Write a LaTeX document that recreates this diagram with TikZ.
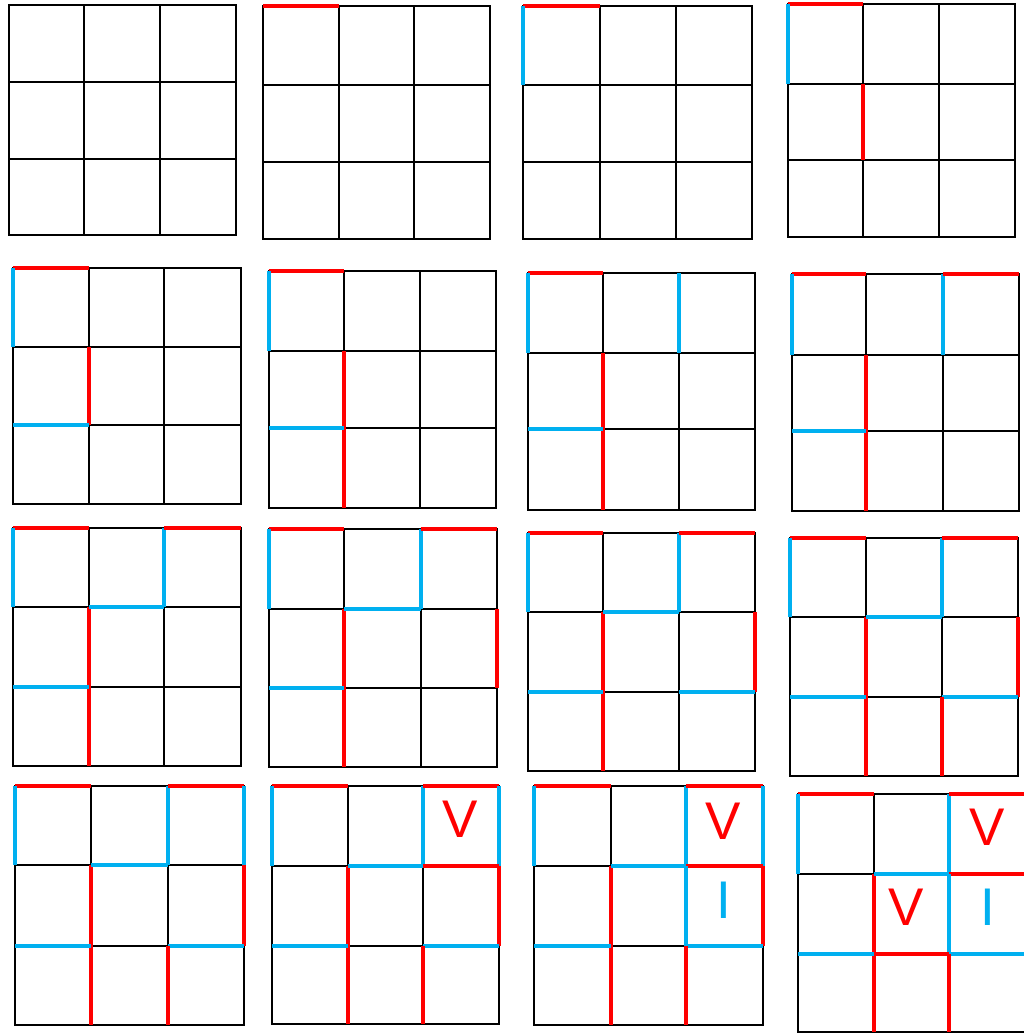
\documentclass[tikz,border=0pt]{standalone}
\usepackage{fontspec}
\setmainfont{Liberation Sans}
\definecolor{myred}{HTML}{FF0000}
\definecolor{mycyan}{HTML}{00B0F0}
\tikzset{
  gridline/.style={draw=black,line width=1.7pt},
  redE/.style={draw=myred,line width=3.8pt},
  cyanE/.style={draw=mycyan,line width=3.8pt},
  letter/.style={inner sep=0pt,font=\fontsize{53}{53}\selectfont},
}
% \mkgrid{name}{x0}{x1}{x2}{x3}{y0}{y1}{y2}{y3}
\newcommand\mkgrid[9]{%
  \foreach[count=\i from 0] \xx in {#2,#3,#4,#5}{%
    \foreach[count=\j from 0] \yy in {#6,#7,#8,#9}{%
      \coordinate (#1-\i-\j) at (\xx,\yy);}}%
  \draw[gridline] (#1-0-0) rectangle (#1-3-3);
  \draw[gridline] (#1-1-0) -- (#1-1-3) (#1-2-0) -- (#1-2-3)
                  (#1-0-1) -- (#1-3-1) (#1-0-2) -- (#1-3-2);
}
\newcommand\hR[3]{\draw[redE] (#1-#2-#3) -- (#1-\the\numexpr#2+1\relax-#3);}
\newcommand\hC[3]{\draw[cyanE] (#1-#2-#3) -- (#1-\the\numexpr#2+1\relax-#3);}
\newcommand\vR[3]{\draw[redE] (#1-#2-#3) -- (#1-#2-\the\numexpr#3+1\relax);}
\newcommand\vC[3]{\draw[cyanE] (#1-#2-#3) -- (#1-#2-\the\numexpr#3+1\relax);}
\begin{document}
\begin{tikzpicture}[x=1pt,y=-1pt]
\useasboundingbox (0,0) rectangle (1024,1033);
\clip (0,0) rectangle (1024,1033);
\fill[white] (0,0) rectangle (1024,1033);
% ---- grids ----
\mkgrid{ga}{9}{83.7}{160}{236}{5}{81.7}{159}{234.7}
\mkgrid{gb}{263}{338.7}{414}{489.7}{6}{84.7}{162}{238.7}
\mkgrid{gc}{523}{599.7}{675.7}{752}{5.7}{84.7}{162}{238.7}
\mkgrid{gd}{787.7}{862.7}{938.7}{1015}{4}{83.7}{159.7}{237}
\mkgrid{ge}{12.7}{88.7}{164}{241}{268.3}{346.7}{425}{503.7}
\mkgrid{gf}{268.7}{343.7}{419.7}{496}{271}{351}{427.7}{507.7}
\mkgrid{gg}{527.7}{603}{678.7}{755}{273.3}{352.7}{428.7}{510}
\mkgrid{gh}{791.7}{866.3}{943}{1019}{274.3}{354.7}{431}{510.7}
\mkgrid{gi}{12.7}{88.7}{164}{241}{527.7}{607}{687}{766.3}
\mkgrid{gj}{268.7}{344.3}{420.7}{497.3}{529}{608.7}{688}{767.3}
\mkgrid{gk}{527.7}{602.7}{678.7}{755}{533.3}{612}{692}{770.7}
\mkgrid{gl}{790.3}{865.7}{941.7}{1018.3}{538.3}{616.7}{697}{776.3}
\mkgrid{gm}{15.3}{91.3}{167.7}{244.3}{786.3}{865.3}{946.3}{1025.3}
\mkgrid{gn}{271.7}{347.7}{423}{499.3}{786.3}{865.7}{946.3}{1024.3}
\mkgrid{go}{534.3}{610.7}{685.7}{763}{786.3}{866}{946.3}{1024.7}
\mkgrid{gp}{798.3}{873.7}{949}{1026}{794.3}{873.7}{953.7}{1032.3}
% ---- coloured edges ----
% 2
\hR{gb}{0}{0}
% 3
\hR{gc}{0}{0} \vC{gc}{0}{0}
% 4
\hR{gd}{0}{0} \vC{gd}{0}{0} \vR{gd}{1}{1}
% 5
\hR{ge}{0}{0} \vC{ge}{0}{0} \vR{ge}{1}{1} \hC{ge}{0}{2}
% 6
\hR{gf}{0}{0} \vC{gf}{0}{0} \vR{gf}{1}{1} \vR{gf}{1}{2} \hC{gf}{0}{2}
% 7
\hR{gg}{0}{0} \vC{gg}{0}{0} \vR{gg}{1}{1} \vR{gg}{1}{2} \hC{gg}{0}{2} \vC{gg}{2}{0}
% 8
\hR{gh}{0}{0} \vC{gh}{0}{0} \vR{gh}{1}{1} \vR{gh}{1}{2} \hC{gh}{0}{2} \vC{gh}{2}{0} \hR{gh}{2}{0}
% 9
\hR{gi}{0}{0} \vC{gi}{0}{0} \vR{gi}{1}{1} \vR{gi}{1}{2} \hC{gi}{0}{2} \vC{gi}{2}{0} \hR{gi}{2}{0} \hC{gi}{1}{1}
% 10
\hR{gj}{0}{0} \vC{gj}{0}{0} \vR{gj}{1}{1} \vR{gj}{1}{2} \hC{gj}{0}{2} \vC{gj}{2}{0} \hR{gj}{2}{0} \hC{gj}{1}{1}
\vR{gj}{3}{1}
% 11
\hR{gk}{0}{0} \vC{gk}{0}{0} \vR{gk}{1}{1} \vR{gk}{1}{2} \hC{gk}{0}{2} \vC{gk}{2}{0} \hR{gk}{2}{0} \hC{gk}{1}{1}
\vR{gk}{3}{1} \hC{gk}{2}{2}
% 12
\hR{gl}{0}{0} \vC{gl}{0}{0} \vR{gl}{1}{1} \vR{gl}{1}{2} \hC{gl}{0}{2} \vC{gl}{2}{0} \hR{gl}{2}{0} \hC{gl}{1}{1}
\vR{gl}{3}{1} \hC{gl}{2}{2} \vR{gl}{2}{2}
% 13
\hR{gm}{0}{0} \vC{gm}{0}{0} \vR{gm}{1}{1} \vR{gm}{1}{2} \hC{gm}{0}{2} \vC{gm}{2}{0} \hR{gm}{2}{0} \hC{gm}{1}{1}
\vR{gm}{3}{1} \hC{gm}{2}{2} \vR{gm}{2}{2} \vC{gm}{3}{0}
% 14
\hR{gn}{0}{0} \vC{gn}{0}{0} \vR{gn}{1}{1} \vR{gn}{1}{2} \hC{gn}{0}{2} \vC{gn}{2}{0} \hR{gn}{2}{0} \hC{gn}{1}{1}
\vR{gn}{3}{1} \hC{gn}{2}{2} \vR{gn}{2}{2} \vC{gn}{3}{0} \hR{gn}{2}{1}
% 15
\hR{go}{0}{0} \vC{go}{0}{0} \vR{go}{1}{1} \vR{go}{1}{2} \hC{go}{0}{2} \vC{go}{2}{0} \hR{go}{2}{0} \hC{go}{1}{1}
\vR{go}{3}{1} \hC{go}{2}{2} \vR{go}{2}{2} \vC{go}{3}{0} \hR{go}{2}{1} \vC{go}{2}{1}
% 16
\hR{gp}{0}{0} \vC{gp}{0}{0} \vR{gp}{1}{1} \vR{gp}{1}{2} \hC{gp}{0}{2} \vC{gp}{2}{0} \hR{gp}{2}{0} \hC{gp}{1}{1}
\vR{gp}{3}{1} \hC{gp}{2}{2} \vR{gp}{2}{2} \vC{gp}{3}{0} \hR{gp}{2}{1} \vC{gp}{2}{1} \hR{gp}{1}{2}
% ---- letters ----
\node[letter,text=myred]  (n-v)  at (460,819.5) {V};
\node[letter,text=myred]  (o-v)  at (723,821)   {V};
\node[letter,text=mycyan] (o-i)  at (724,900.5) {I};
\node[letter,text=myred]  (p-v1) at (987,827)   {V};
\node[letter,text=myred]  (p-v2) at (906,907)   {V};
\node[letter,text=mycyan] (p-i)  at (988,907)   {I};
\end{tikzpicture}
\end{document}
